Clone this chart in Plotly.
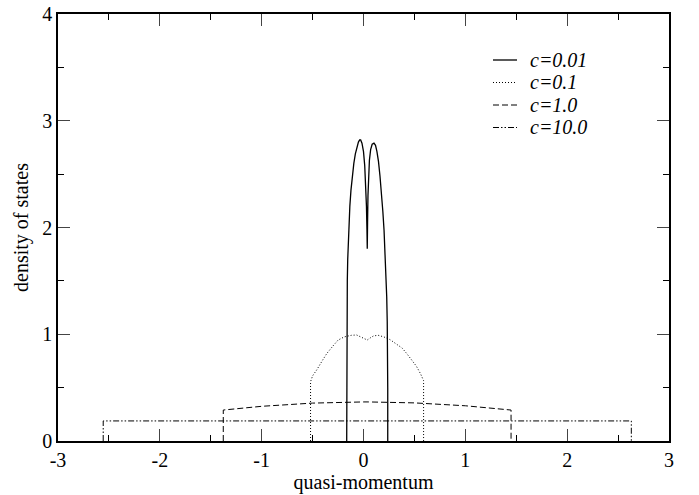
import plotly.graph_objects as go

# ---- data ----
x_c001 = [-0.165, -0.165, -0.164, -0.162, -0.159, -0.155, -0.150, -0.143, -0.134, -0.123,
          -0.110, -0.095, -0.080, -0.065, -0.050, -0.038, -0.028, -0.015, 0.000, 0.012,
          0.022, 0.029, 0.034, 0.037,
          0.040, 0.044, 0.050, 0.058, 0.070, 0.085, 0.103, 0.118, 0.132, 0.147, 0.162,
          0.176, 0.190, 0.202, 0.212, 0.221, 0.228, 0.233, 0.237, 0.238, 0.238]
y_c001 = [0.00, 0.60, 1.00, 1.25, 1.50, 1.70, 1.88, 2.05, 2.20, 2.35,
          2.48, 2.60, 2.69, 2.76, 2.80, 2.82, 2.82, 2.79, 2.71, 2.58,
          2.40, 2.20, 1.98, 1.80,
          2.05, 2.30, 2.50, 2.63, 2.73, 2.78, 2.79, 2.77, 2.71, 2.62, 2.48,
          2.33, 2.15, 1.97, 1.78, 1.57, 1.35, 1.12, 0.85, 0.50, 0.00]

x_c01 = [-0.52, -0.52, -0.50, -0.46, -0.40, -0.36, -0.30, -0.25, -0.19, -0.12, -0.067,
         -0.02, 0.037, 0.07, 0.10, 0.145, 0.20, 0.26, 0.326, 0.38, 0.424, 0.47, 0.52,
         0.56, 0.59, 0.59]
y_c01 = [0.00, 0.555, 0.61, 0.665, 0.76, 0.82, 0.89, 0.945, 0.975, 0.99, 0.993,
         0.975, 0.946, 0.968, 0.985, 0.99, 0.975, 0.95, 0.91, 0.87, 0.82, 0.76, 0.70,
         0.63, 0.565, 0.00]

x_c1 = [-1.377, -1.377, -1.0, -0.5, 0.0, 0.05, 0.5, 1.0, 1.449, 1.449]
y_c1 = [0.00, 0.29, 0.325, 0.355, 0.366, 0.366, 0.357, 0.33, 0.29, 0.00]

x_c10 = [-2.556, -2.556, 2.630, 2.630]
y_c10 = [0.00, 0.188, 0.188, 0.00]

series_names = ["c=0.01", "c=0.1", "c=1.0", "c=10.0"]
series_dash = ["solid", "1px,2px", "6px,3px", "6px,2px,1.5px,2px,1.5px,2px"]
series_width = [1.3, 1, 1, 1]

x_tickvals = [-3, -2, -1, 0, 1, 2, 3]
x_ticktext = ["-3", "-2", "-1", "0", "1", "2", "3"]
y_tickvals = [0, 1, 2, 3, 4]
y_ticktext = ["0", "1", "2", "3", "4"]

FONT = "Liberation Serif"
W, H = 699, 495
ML, MR, MT, MB = 58, 30, 14, 54

fig = go.Figure()
for xs, ys, name, dash, wd in zip([x_c001, x_c01, x_c1, x_c10],
                                  [y_c001, y_c01, y_c1, y_c10],
                                  series_names, series_dash, series_width):
    fig.add_trace(go.Scatter(x=xs, y=ys, mode="lines", name=name, showlegend=False,
                             line=dict(color="black", width=wd, dash=dash)))

# legend key drawn manually (compact spacing like the reference)
pw, ph = W - ML - MR, H - MT - MB
def px_x(p):
    return (p - ML) / pw
def px_y(p):
    return (H - MB - p) / ph

row0, row_gap = 60, 22.5
for i, (name, dash, wd) in enumerate(zip(series_names, series_dash, series_width)):
    yy = px_y(row0 + i * row_gap)
    fig.add_shape(type="line", xref="paper", yref="paper",
                  x0=px_x(493), x1=px_x(517), y0=yy, y1=yy,
                  line=dict(color="black", width=wd, dash=dash))
    fig.add_annotation(xref="paper", yref="paper", x=px_x(528), y=yy,
                       xanchor="left", yanchor="middle", showarrow=False,
                       text=f"<i>{name}</i>",
                       font=dict(family=FONT, size=20, color="black"))

axis_common = dict(
    showgrid=False, zeroline=False, showline=True, linecolor="black", linewidth=1.5,
    mirror="ticks", ticks="inside", ticklen=12, tickwidth=1.2, tickcolor="#444",
    tickfont=dict(family=FONT, size=20, color="black"), automargin=False,
)

fig.update_xaxes(range=[-3, 3], tickvals=x_tickvals, ticktext=x_ticktext,
                 minor=dict(ticks="inside", ticklen=6, dtick=0.5, tickcolor="black", tickwidth=1),
                 title=dict(text="quasi-momentum", font=dict(family=FONT, size=20, color="black"),
                            standoff=0),
                 ticklabelstandoff=0,
                 **axis_common)
fig.update_yaxes(range=[0, 4], tickvals=y_tickvals, ticktext=y_ticktext,
                 minor=dict(ticks="inside", ticklen=6, dtick=0.5, tickcolor="black", tickwidth=1),
                 title=dict(text="density of states", font=dict(family=FONT, size=20, color="black"),
                            standoff=8),
                 **axis_common)

fig.update_layout(
    width=W, height=H,
    margin=dict(l=ML, r=MR, t=MT, b=MB),
    paper_bgcolor="white", plot_bgcolor="white",
    font=dict(family=FONT, color="black"),
    showlegend=False,
)

fig.write_html("out.html", config={"displayModeBar": False},
               post_script="document.body.style.margin='0';document.body.style.overflow='hidden';")
